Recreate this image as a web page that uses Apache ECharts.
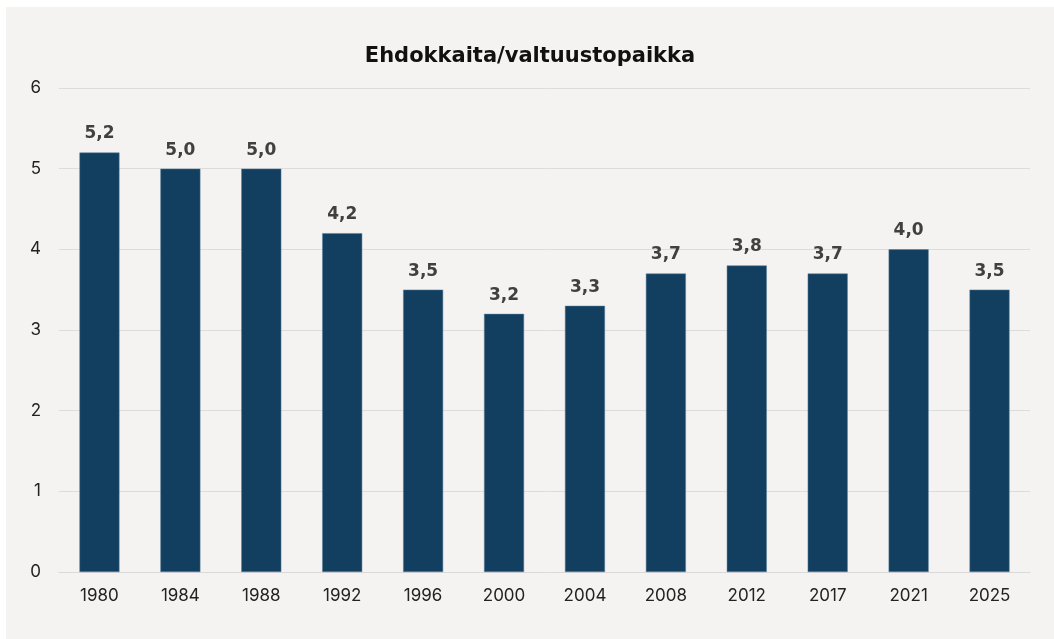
<!DOCTYPE html>
<html>
<head>
<meta charset="utf-8">
<script src="https://cdn.jsdelivr.net/npm/echarts@6/dist/echarts.min.js"></script>
<style>
  html, body { margin: 0; padding: 0; background: #ffffff; }
  #chart {
    position: absolute;
    left: 6px;
    top: 7px;
    width: 1048px;
    height: 632px;
    background: #f4f3f1;
  }
</style>
</head>
<body>
<div id="chart"></div>
<script>
// vaalivuodet ja ehdokkaita per valtuustopaikka
const years = ['1980', '1984', '1988', '1992', '1996', '2000', '2004', '2008', '2012', '2017', '2021', '2025']
const candidatesPerSeat = [5.2, 5.0, 5.0, 4.2, 3.5, 3.2, 3.3, 3.7, 3.8, 3.7, 4.0, 3.5]
const yTicks = [0, 1, 2, 3, 4, 5, 6]

const chart = echarts.init(document.getElementById('chart'))

const option = {
  backgroundColor: '#f4f3f1',
  animation: false,
  title: {
    text: 'Ehdokkaita/valtuustopaikka',
    left: 'center',
    top: 34,
    textStyle: {
      fontFamily: 'DejaVu Sans',
      fontWeight: 'bold',
      fontSize: 21,
      color: '#111111'
    }
  },
  grid: { left: 53, right: 24, top: 81, bottom: 67 },
  xAxis: {
    type: 'category',
    data: years,
    axisLine: { lineStyle: { color: '#d9d9d9', width: 1 } },
    axisTick: { show: false },
    axisLabel: {
      fontFamily: 'Inter',
      fontSize: 17,
      color: '#222222',
      margin: 15
    }
  },
  yAxis: {
    type: 'value',
    min: yTicks[0],
    max: yTicks[yTicks.length - 1],
    interval: 1,
    axisLine: { show: false },
    axisTick: { show: false },
    splitLine: { lineStyle: { color: '#dcdcdc', width: 1 } },
    axisLabel: {
      fontFamily: 'Inter',
      fontSize: 17,
      color: '#222222',
      margin: 18
    }
  },
  series: [
    {
      type: 'bar',
      data: candidatesPerSeat,
      barWidth: 40,
      itemStyle: {
        color: '#123f5f',
        borderColor: '#5b7f9a',
        borderWidth: 0.5
      },
      label: {
        show: true,
        position: 'top',
        distance: 10,
        fontFamily: 'DejaVu Sans',
        fontWeight: 'bold',
        fontSize: 17,
        color: '#404040',
        formatter: p => p.value.toFixed(1).replace('.', ',')
      }
    }
  ]
}

chart.setOption(option)
</script>
</body>
</html>
